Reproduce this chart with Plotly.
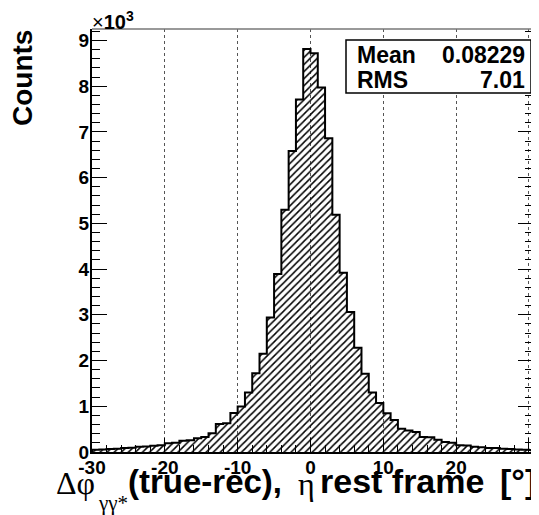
import plotly.graph_objects as go

# ---------------- data ----------------
bin_left_edges = list(range(-30, 31))  # 61 bins of width 1, last one [30,31]
counts = [
    50, 55, 65, 70, 90, 95, 115, 120, 135, 145,
    190, 200, 245, 255, 300, 330, 410, 615, 630, 855,
    995, 1300, 1720, 2150, 2940, 3890, 5300, 6580, 7710, 8810,
    8720, 7970, 6860, 5190, 3920, 3060, 2280, 1710, 1300, 1070,
    850, 700, 510, 470, 440, 330, 320, 270, 220, 200,
    150, 140, 115, 105, 90, 85, 70, 65, 55, 50,
    45,
]
bin_width = 1
x_tick_vals = [-30, -20, -10, 0, 10, 20, 30]
x_tick_text = ["-30", "-20", "-10", "0", "10", "20", "30"]
y_tick_vals = [0, 1000, 2000, 3000, 4000, 5000, 6000, 7000, 8000, 9000]
y_tick_text = ["0", "1", "2", "3", "4", "5", "6", "7", "8", "9"]
stat_names = ["Mean", "RMS"]
stat_values = ["0.08229", "7.01"]

# ---------------- geometry ----------------
# the page body has an 8px default margin, so the figure is drawn 8px in
OFF = 8
SW, SH = 539, 515                      # screen size
PL, PR, PT, PB = 92, 533, 29, 452      # plot area in screen pixels
W, H = SW - OFF, SH - OFF
L, T = PL - OFF, PT - OFF
R = W - (PR - OFF)
B = H - (PB - OFF)
PW, PH = PR - PL, PB - PT


def xp(px):
    return (px - PL) / PW


def yp(py):
    return (PB - py) / PH


centers = [e + bin_width / 2 for e in bin_left_edges]
step_x = [bin_left_edges[0]] + bin_left_edges + [bin_left_edges[-1] + bin_width]
step_y = [0] + counts + [0]

fig = go.Figure()
fig.add_trace(go.Bar(
    x=centers, y=counts, width=bin_width,
    marker=dict(color="black", line=dict(width=0),
                pattern=dict(shape="/", size=5, solidity=0.3, fillmode="replace")),
    showlegend=False, hoverinfo="skip",
))
fig.add_trace(go.Scatter(
    x=step_x, y=step_y, mode="lines", line=dict(color="black", width=2, shape="hv"),
    showlegend=False, hoverinfo="skip",
))

axis_font = dict(family="Liberation Sans", size=19, color="black", weight="bold")

fig.update_xaxes(
    range=[-30, 30.55], tickvals=x_tick_vals, ticktext=x_tick_text,
    ticks="inside", ticklen=14, tickwidth=1, tickcolor="black",
    minor=dict(dtick=2, tick0=0, ticks="inside", ticklen=7, tickcolor="black", showgrid=False),
    showline=True, linecolor="black", linewidth=2, mirror=False,
    showgrid=True, gridcolor="#555555", gridwidth=1, griddash="dot",
    tickfont=axis_font, zeroline=False, ticklabelstandoff=-3,
)
fig.update_yaxes(
    range=[0, 9250], tickvals=y_tick_vals, ticktext=y_tick_text,
    ticks="inside", ticklen=15, tickwidth=1, tickcolor="black",
    minor=dict(dtick=200, tick0=0, ticks="inside", ticklen=8, tickcolor="black", showgrid=False),
    showline=True, linecolor="black", linewidth=2, mirror="ticks",
    showgrid=False, tickfont=axis_font, zeroline=False, ticklabelstandoff=-3,
)

ann = []
# y title
ann.append(dict(text="<b>Counts</b>", x=xp(23), y=yp(78), xref="paper", yref="paper",
                textangle=-90, showarrow=False, xanchor="center", yanchor="middle",
                font=dict(family="Liberation Sans", size=28, color="black")))
# x10^3
ann.append(dict(text="×<b>10</b><sup><b>3</b></sup>", x=xp(90), y=yp(20), xref="paper", yref="paper",
                showarrow=False, xanchor="left", yanchor="middle",
                font=dict(family="Liberation Sans", size=20, color="black")))
# stats text
for i, (n, v) in enumerate(zip(stat_names, stat_values)):
    yy = 55 + 25 * i
    ann.append(dict(text="<b>%s</b>" % n, x=xp(355), y=yp(yy), xref="paper", yref="paper",
                    showarrow=False, xanchor="left", yanchor="middle",
                    font=dict(family="Liberation Sans", size=23, color="black")))
    ann.append(dict(text="<b>%s</b>" % v, x=xp(527), y=yp(yy), xref="paper", yref="paper",
                    showarrow=False, xanchor="right", yanchor="middle",
                    font=dict(family="Liberation Sans", size=23, color="black")))
# x title pieces
ann.append(dict(text="Δφ", x=xp(54), y=yp(483), xref="paper", yref="paper",
                showarrow=False, xanchor="left", yanchor="middle",
                font=dict(family="Liberation Serif", size=32, color="black")))
ann.append(dict(text="γγ*", x=xp(96), y=yp(503), xref="paper", yref="paper",
                showarrow=False, xanchor="left", yanchor="middle",
                font=dict(family="Liberation Serif", size=21, color="black")))
ann.append(dict(text="<b>(true-rec),</b>", x=xp(126), y=yp(481), xref="paper", yref="paper",
                showarrow=False, xanchor="left", yanchor="middle",
                font=dict(family="Liberation Sans", size=33, color="black")))
ann.append(dict(text="η", x=xp(296), y=yp(484), xref="paper", yref="paper",
                showarrow=False, xanchor="left", yanchor="middle",
                font=dict(family="Liberation Serif", size=32, color="black")))
ann.append(dict(text="<b>rest frame</b>", x=xp(318), y=yp(481), xref="paper", yref="paper",
                showarrow=False, xanchor="left", yanchor="middle",
                font=dict(family="Liberation Sans", size=34, color="black")))
ann.append(dict(text="<b>[°]</b>", x=xp(538), y=yp(481), xref="paper", yref="paper",
                showarrow=False, xanchor="right", yanchor="middle",
                font=dict(family="Liberation Sans", size=34, color="black")))

fig.update_layout(
    width=W, height=H, margin=dict(l=L, r=R, t=T, b=B, autoexpand=False),
    paper_bgcolor="white", plot_bgcolor="white", bargap=0,
    annotations=ann,
    shapes=[
        dict(type="line", xref="paper", yref="paper", x0=0, x1=1, y0=1, y1=1,
             line=dict(color="#777777", width=1.5), layer="above"),
        dict(type="rect", xref="paper", yref="paper",
             x0=xp(346), x1=xp(531), y0=yp(93), y1=yp(40),
             line=dict(color="black", width=1.5), fillcolor="white", layer="above"),
    ],
)

fig.write_html("out.html")
